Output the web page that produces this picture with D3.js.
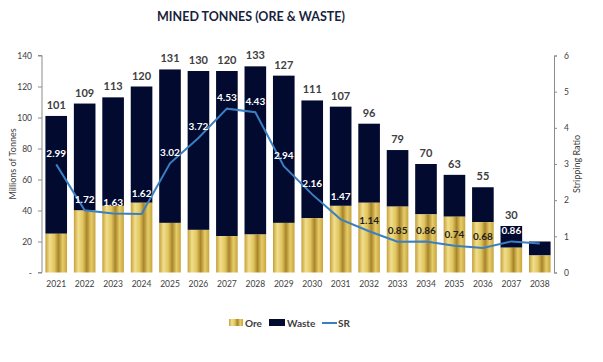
<!DOCTYPE html>
<html>
<head>
<meta charset="utf-8">
<script src="https://cdn.jsdelivr.net/npm/d3@7"></script>
<style>
  body { margin: 0; background: #fff; }
  text { font-family: Lato, "Open Sans", sans-serif; }
</style>
</head>
<body>
<script>
const width = 603;
const height = 362;

// chart data
const years = ['2021','2022','2023','2024','2025','2026','2027','2028','2029','2030','2031','2032','2033','2034','2035','2036','2037','2038'];
const ore   = [25, 40, 43, 45, 32, 27.5, 23.5, 24.5, 32, 35, 43, 45, 42.5, 37.5, 36, 32.5, 16, 11];
const waste = [76, 69, 70, 75, 99, 102.5, 106.5, 108.5, 95, 76, 64, 51, 36.5, 32.5, 27, 22.5, 14, 9];
const totalLabels = ['101','109','113','120','131','130','120','133','127','111','107','96','79','70','63','55','30', null];
const sr = [2.99, 1.72, 1.63, 1.62, 3.02, 3.72, 4.53, 4.43, 2.94, 2.16, 1.47, 1.14, 0.85, 0.86, 0.74, 0.68, 0.86, 0.8];
const srLabels = ['2.99','1.72','1.63','1.62','3.02','3.72','4.53','4.43','2.94','2.16','1.47','1.14','0.85','0.86','0.74','0.68','0.86', null];
const leftTicks = [0, 20, 40, 60, 80, 100, 120, 140];
const rightTicks = [0, 1, 2, 3, 4, 5, 6];

const navy = '#020a30';
const lineBlue = '#3a7fc1';
const textGrey = '#404040';

const svg = d3.select('body')
              .append('svg')
              .attr('width', width)
              .attr('height', height);

// gold metallic gradient for the ore bars
const defs = svg.append('defs');
const gold = defs.append('linearGradient')
  .attr('id', 'gold')
  .attr('x1', '0%').attr('x2', '100%')
  .attr('y1', '0%').attr('y2', '0%');
[[0, '#c4a03a'], [0.2, '#f1de8c'], [0.42, '#e0c55e'], [0.6, '#a8842a'], [0.8, '#e6cc68'], [1, '#c6a43e']]
  .forEach(s => gold.append('stop').attr('offset', s[0]).attr('stop-color', s[1]));

const x = d3.scaleBand()
  .domain(years)
  .range([42, 554])
  .paddingInner(0.24)
  .paddingOuter(0.12);

const y = d3.scaleLinear().domain([0, 140]).range([272.5, 55.5]);
const y2 = d3.scaleLinear().domain([0, 6]).range([272.5, 55.5]);

// title
svg.append('text')
  .text('MINED TONNES (ORE & WASTE)')
  .attr('x', 251)
  .attr('y', 21)
  .attr('text-anchor', 'middle')
  .attr('font-size', 12.5)
  .attr('font-weight', 'bold')
  .attr('fill', '#1a1f3d');

// bars
const rows = years.map((yr, i) => ({ yr, ore: ore[i], waste: waste[i], total: ore[i] + waste[i], label: totalLabels[i], sr: sr[i], srLabel: srLabels[i] }));

svg.append('g').selectAll('rect')
  .data(rows)
  .enter()
  .append('rect')
    .attr('x', d => x(d.yr))
    .attr('width', x.bandwidth())
    .attr('y', d => y(d.total))
    .attr('height', d => y(d.ore) - y(d.total))
    .attr('fill', navy);

svg.append('g').selectAll('rect')
  .data(rows)
  .enter()
  .append('rect')
    .attr('x', d => x(d.yr))
    .attr('width', x.bandwidth())
    .attr('y', d => y(d.ore))
    .attr('height', d => y(0) - y(d.ore))
    .attr('fill', 'url(#gold)');

// total labels
svg.append('g').selectAll('text')
  .data(rows.filter(d => d.label))
  .enter()
  .append('text')
    .text(d => d.label)
    .attr('x', d => x(d.yr) + x.bandwidth() / 2)
    .attr('y', d => y(d.total) - 7)
    .attr('text-anchor', 'middle')
    .attr('font-size', 11)
    .attr('font-weight', 'bold')
    .attr('fill', textGrey);

// stripping ratio line
const line = d3.line()
  .x(d => x(d.yr) + x.bandwidth() / 2)
  .y(d => y2(d.sr));

svg.append('path')
  .datum(rows)
  .attr('d', line)
  .attr('fill', 'none')
  .attr('stroke', lineBlue)
  .attr('stroke-width', 2);

// SR labels sit above the point; if that lands on the ore/waste edge, lift it onto the waste
function srLabelY(d) {
  const c = y2(d.sr) - 11;
  const edge = y(d.ore);
  if (c > edge - 3 && c < edge + 6) return edge - 9;
  return c;
}

svg.append('g').selectAll('text')
  .data(rows.filter(d => d.srLabel))
  .enter()
  .append('text')
    .text(d => d.srLabel)
    .attr('x', d => x(d.yr) + x.bandwidth() / 2)
    .attr('y', d => srLabelY(d) + 3.5)
    .attr('text-anchor', 'middle')
    .attr('font-size', 10)
    .attr('font-weight', 'bold')
    .attr('fill', d => (srLabelY(d) < y(d.ore)) ? '#ffffff' : '#1e1e1e');

// left axis
const leftAxis = d3.axisLeft(y)
  .tickValues(leftTicks)
  .tickSize(4)
  .tickPadding(6)
  .tickFormat(d => d === 0 ? '-' : d);
const gl = svg.append('g')
  .attr('transform', 'translate(42,0)')
  .call(leftAxis);
gl.select('.domain').attr('stroke', '#8c8c8c').attr('d', 'M-4,' + y(140) + 'H0V' + y(0) + 'H-4');
gl.selectAll('.tick line').attr('stroke', '#8c8c8c');
gl.selectAll('.tick text').attr('font-size', 8.5).attr('fill', textGrey).attr('font-family', 'Lato, sans-serif');

// right axis
const rightAxis = d3.axisRight(y2)
  .tickValues(rightTicks)
  .tickSize(3)
  .tickPadding(7)
  .tickFormat(d3.format('d'));
const gr = svg.append('g')
  .attr('transform', 'translate(554,0)')
  .call(rightAxis);
gr.select('.domain').attr('stroke', '#8c8c8c');
gr.selectAll('.tick line').attr('stroke', '#8c8c8c');
gr.selectAll('.tick text').attr('font-size', 8.5).attr('fill', textGrey).attr('font-family', 'Lato, sans-serif');

// x labels
svg.append('g').selectAll('text')
  .data(years)
  .enter()
  .append('text')
    .text(d => d)
    .attr('x', d => x(d) + x.bandwidth() / 2)
    .attr('y', 287)
    .attr('text-anchor', 'middle')
    .attr('font-size', 8.5)
    .attr('fill', textGrey);

// axis titles
svg.append('text')
  .text('Millions of Tonnes')
  .attr('transform', 'translate(16,164) rotate(-90)')
  .attr('text-anchor', 'middle')
  .attr('font-size', 9)
  .attr('fill', textGrey);

svg.append('text')
  .text('Stripping Ratio')
  .attr('transform', 'translate(580,164) rotate(-90)')
  .attr('text-anchor', 'middle')
  .attr('font-size', 9)
  .attr('fill', textGrey);

// legend
const legend = svg.append('g').attr('transform', 'translate(0,323)');
legend.append('rect').attr('x', 229).attr('y', -4).attr('width', 14).attr('height', 7).attr('fill', 'url(#gold)');
legend.append('text').text('Ore').attr('x', 245).attr('y', 3.5).attr('font-size', 10).attr('font-weight', 'bold').attr('fill', textGrey);
legend.append('rect').attr('x', 269).attr('y', -4).attr('width', 16).attr('height', 7).attr('fill', navy);
legend.append('text').text('Waste').attr('x', 287).attr('y', 3.5).attr('font-size', 10).attr('font-weight', 'bold').attr('fill', textGrey);
legend.append('line').attr('x1', 322).attr('x2', 337).attr('y1', 0).attr('y2', 0).attr('stroke', lineBlue).attr('stroke-width', 2);
legend.append('text').text('SR').attr('x', 338).attr('y', 3.5).attr('font-size', 10).attr('font-weight', 'bold').attr('fill', textGrey);
</script>
</body>
</html>
